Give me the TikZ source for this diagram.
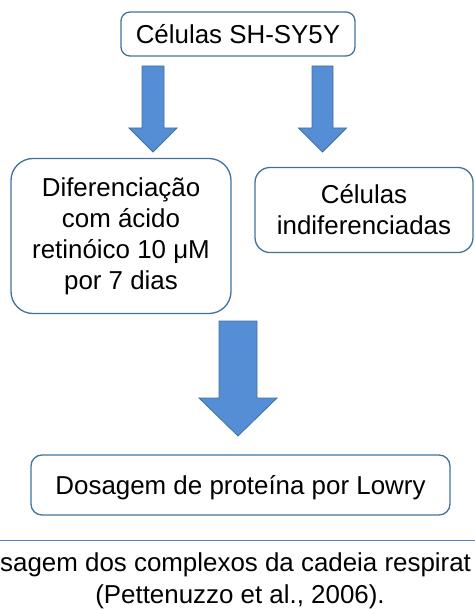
\documentclass[tikz,border=0pt]{standalone}
\usepackage{fontspec}
\setmainfont{Liberation Sans}
\usetikzlibrary{calc}
\definecolor{boxline}{HTML}{41719C}
\definecolor{arrowfill}{HTML}{558ED5}
\definecolor{rulecol}{HTML}{4F81BD}

% block arrow: start, tip, shaft half width, head half width, head length
\newcommand{\blockarrow}[5]{%
  \filldraw[arrowfill, draw=boxline, line width=0.8bp, line join=miter]
    ($(#1)+(-#3,0)$) -- ($(#1)+(#3,0)$) -- ($(#2)+(#3,-#5)$)
    -- ($(#2)+(#4,-#5)$) -- (#2) -- ($(#2)+(-#4,-#5)$)
    -- ($(#2)+(-#3,-#5)$) -- cycle;}

\begin{document}
\begin{tikzpicture}[x=1bp, y=-1bp,
    font=\fontsize{26}{31}\selectfont,
    stepbox/.style={draw=boxline, line width=1.3bp, inner sep=0pt, align=center},
    oneline/.style={text height=19bp, text depth=0pt}]
    \useasboundingbox (0,0) rectangle (475,610);

    % Draw boxes
    \node (cells) [stepbox, oneline, rounded corners=9bp, minimum width=234bp, minimum height=44bp]
        at (238,34) {Células SH-SY5Y};
    \node (diff) [stepbox, rounded corners=22bp, minimum width=220bp, minimum height=155bp]
        at (121,236) {Diferenciação\\com ácido\\retinóico 10 μM\\por 7 dias};
    \node (undiff) [stepbox, rounded corners=15bp, minimum width=218bp, minimum height=85bp]
        at (364,210) {Células\\indiferenciadas};
    \node (lowry) [stepbox, oneline, rounded corners=11bp, minimum width=419bp, minimum height=60bp]
        at (240.5,485) {Dosagem de proteína por Lowry};

    % Add arrows
    \coordinate (leftA) at (153,66);   \coordinate (leftB) at (153,152);
    \coordinate (rightA) at (322.5,66); \coordinate (rightB) at (322.5,152);
    \coordinate (downA) at (238,321);  \coordinate (downB) at (238,436);
    \blockarrow{leftA}{leftB}{11}{24}{24}
    \blockarrow{rightA}{rightB}{10.5}{24}{24}
    \blockarrow{downA}{downB}{19}{39}{38}

    % Caption below the rule
    \draw[rulecol, line width=1bp] (0,540) -- (475,540);
    \node (capA) [anchor=base west, inner sep=0pt] at (0,571) {sagem dos complexos da cadeia respirat};
    \node (capB) [anchor=base, inner sep=0pt] at (240,603) {(Pettenuzzo et al., 2006).};

\end{tikzpicture}
\end{document}
